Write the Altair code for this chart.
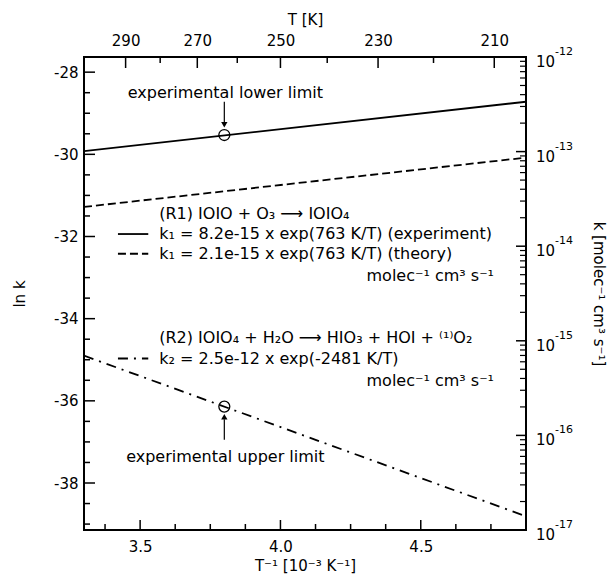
import math
import altair as alt
import pandas as pd
import numpy as np

# ---------------- data ----------------
x_ends = [3.3, 4.875]                      # 1000/T  [10^-3 K^-1]
lnk_r1_experiment = [-29.92, -28.72]
lnk_r1_theory = [-31.28, -30.08]
lnk_r2 = [-34.90, -38.81]

limit_x = [3.80, 3.80]
limit_lnk = [-29.53, -36.14]
limit_labels = ["experimental lower limit", "experimental upper limit"]

x_tick_values = [3.5, 4.0, 4.5]
lnk_tick_values = [-38, -36, -34, -32, -30, -28]
T_major = [290, 270, 250, 230, 210]
T_minor = [280, 260, 240, 220]
k_exponents = [-12, -13, -14, -15, -16, -17]
k_mantissas = [2, 3, 4, 5, 6, 7, 8, 9]

legend_texts = [
    "(R1) IOIO + O₃ ⟶ IOIO₄",
    "k₁ = 8.2e-15 x exp(763 K/T) (experiment)",
    "k₁ = 2.1e-15 x exp(763 K/T) (theory)",
    "(R2) IOIO₄ + H₂O ⟶ HIO₃ + HOI + ⁽¹⁾O₂",
    "k₂ = 2.5e-12 x exp(-2481 K/T)",
]
unit_text = "molec⁻¹ cm³ s⁻¹"

# ---------------- layout ----------------
W, H = 442, 473
FONT = "DejaVu Sans"
FS = 15
AFS = 16
X_DOMAIN = [3.3, 4.875]
Y_DOMAIN = [math.log(1e-17), math.log(1e-12)]


def X(field, axis=None, **kw):
    return alt.X(field, type="quantitative",
                 scale=alt.Scale(domain=X_DOMAIN, nice=False, zero=False),
                 axis=axis, **kw)


def Y(field, axis=None, **kw):
    return alt.Y(field, type="quantitative",
                 scale=alt.Scale(domain=Y_DOMAIN, nice=False, zero=False),
                 axis=axis, **kw)


layers = []

# ---- data lines ----
for vals, dash in [(lnk_r1_experiment, None), (lnk_r1_theory, [8, 4]), (lnk_r2, [10, 6, 2, 6])]:
    kw = dict(color="black", strokeWidth=1.8, clip=True)
    if dash:
        kw["strokeDash"] = dash
    layers.append(
        alt.Chart(pd.DataFrame({"x": x_ends, "lnk": vals}))
        .mark_line(**kw)
        .encode(x=X("x"), y=Y("lnk"))
    )

# ---- limit circles ----
layers.append(
    alt.Chart(pd.DataFrame({"x": limit_x, "lnk": limit_lnk}))
    .mark_point(shape="circle", filled=False, color="black", size=120, strokeWidth=1.3, opacity=1)
    .encode(x=X("x"), y=Y("lnk"))
)

# ---- arrows ----
arrow_df = pd.DataFrame({"x": limit_x, "y1": [-28.72, -36.95], "y2": [-29.22, -36.45]})
layers.append(
    alt.Chart(arrow_df).mark_rule(color="black", strokeWidth=1.2)
    .encode(x=X("x"), y=Y("y1"), y2="y2")
)
layers.append(
    alt.Chart(pd.DataFrame({"x": [limit_x[0]], "y": [-29.28]}))
    .mark_point(shape="triangle-down", filled=True, color="black", size=40, opacity=1)
    .encode(x=X("x"), y=Y("y"))
)
layers.append(
    alt.Chart(pd.DataFrame({"x": [limit_x[1]], "y": [-36.39]}))
    .mark_point(shape="triangle-up", filled=True, color="black", size=40, opacity=1)
    .encode(x=X("x"), y=Y("y"))
)

# ---- limit labels ----
layers.append(
    alt.Chart(pd.DataFrame({"t": limit_labels, "x": [3.8036, 3.8036], "y": [-28.51, -37.36]}))
    .mark_text(font=FONT, fontSize=AFS, color="black", align="center", baseline="middle")
    .encode(x=X("x"), y=Y("y"), text="t")
)

# ---- legend text ----
leg_df = pd.DataFrame({
    "t": legend_texts,
    "x": [3.568] * 5,
    "y": [-31.45, -31.94, -32.42, -34.47, -34.97],
})
layers.append(
    alt.Chart(leg_df)
    .mark_text(font=FONT, fontSize=AFS, color="black", align="left", baseline="middle")
    .encode(x=X("x"), y=Y("y"), text="t")
)
layers.append(
    alt.Chart(pd.DataFrame({"t": [unit_text, unit_text], "x": [4.761, 4.761], "y": [-32.96, -35.51]}))
    .mark_text(font=FONT, fontSize=AFS, color="black", align="right", baseline="middle")
    .encode(x=X("x"), y=Y("y"), text="t")
)

# ---- legend line samples ----
for yv, dash in [(-31.94, None), (-32.42, [8, 4]), (-34.97, [10, 6, 2, 6])]:
    kw = dict(color="black", strokeWidth=1.8)
    if dash:
        kw["strokeDash"] = dash
    layers.append(
        alt.Chart(pd.DataFrame({"x1": [3.421], "x2": [3.529], "y": [yv]}))
        .mark_rule(**kw)
        .encode(x=X("x1"), x2="x2", y=Y("y"))
    )

# ---- bottom axis + ticks ----
layers.append(
    alt.Chart(pd.DataFrame({"x": x_tick_values})).mark_rule(color="black", strokeWidth=1.5)
    .encode(
        x=X("x", axis=alt.Axis(orient="bottom", values=x_tick_values, format=".1f",
                               title="T⁻¹ [10⁻³ K⁻¹]", labelPadding=9, titlePadding=4)),
        y=alt.value(H), y2=alt.value(H - 10),
    )
)
x_minor = [v for v in np.arange(3.375, 4.8, 0.125) if all(abs(v - m) > 1e-6 for m in x_tick_values)]
layers.append(
    alt.Chart(pd.DataFrame({"x": x_minor})).mark_rule(color="black", strokeWidth=1.5)
    .encode(x=X("x"), y=alt.value(H), y2=alt.value(H - 6))
)

# ---- top axis + ticks ----
layers.append(
    alt.Chart(pd.DataFrame({"T": T_major})).transform_calculate(x="1000 / datum.T")
    .mark_rule(color="black", strokeWidth=1.5)
    .encode(
        x=X("x", axis=alt.Axis(orient="top", values=[1000 / t for t in T_major],
                               labelExpr="format(1000 / datum.value, '.0f')",
                               title="T [K]", labelPadding=9, titlePadding=6)),
        y=alt.value(0), y2=alt.value(11),
    )
)
layers.append(
    alt.Chart(pd.DataFrame({"T": T_minor})).transform_calculate(x="1000 / datum.T")
    .mark_rule(color="black", strokeWidth=1.5)
    .encode(x=X("x"), y=alt.value(0), y2=alt.value(6))
)

# ---- left axis + ticks ----
layers.append(
    alt.Chart(pd.DataFrame({"lnk": lnk_tick_values})).mark_rule(color="black", strokeWidth=1.5)
    .encode(
        y=Y("lnk", axis=alt.Axis(orient="left", values=lnk_tick_values,
                                 labelExpr="'' + datum.value",
                                 title="ln k", labelPadding=6, titlePadding=26)),
        x=alt.value(0), x2=alt.value(11),
    )
)
lnk_minor = [v for v in np.arange(-39.0, -27.6, 0.5) if all(abs(v - m) > 1e-6 for m in lnk_tick_values)]
layers.append(
    alt.Chart(pd.DataFrame({"lnk": lnk_minor})).mark_rule(color="black", strokeWidth=1.5)
    .encode(y=Y("lnk"), x=alt.value(0), x2=alt.value(6))
)

# ---- right axis (k, log scale) ----
layers.append(
    alt.Chart(pd.DataFrame({"n": k_exponents}))
    .transform_calculate(lnk="log(pow(10, datum.n))")
    .mark_rule(color="black", strokeWidth=1.5)
    .encode(
        y=Y("lnk", axis=alt.Axis(orient="right", labels=False, title="k [molec⁻¹ cm³ s⁻¹]",
                                 titlePadding=64, titleAngle=90)),
        x=alt.value(W), x2=alt.value(W - 10),
    )
)
minor_rows = [{"m": m, "n": n} for n in k_exponents[1:] for m in k_mantissas]
layers.append(
    alt.Chart(pd.DataFrame(minor_rows))
    .transform_calculate(lnk="log(datum.m * pow(10, datum.n))")
    .mark_rule(color="black", strokeWidth=1.2)
    .encode(y=Y("lnk"), x=alt.value(W), x2=alt.value(W - 6))
)
layers.append(
    alt.Chart(pd.DataFrame({"n": k_exponents}))
    .transform_calculate(lnk="log(pow(10, datum.n))", base="'10'")
    .mark_text(font=FONT, fontSize=FS, color="black", align="left", baseline="alphabetic", dy=10)
    .encode(y=Y("lnk"), x=alt.value(W + 10), text="base:N")
)
layers.append(
    alt.Chart(pd.DataFrame({"n": k_exponents}))
    .transform_calculate(lnk="log(pow(10, datum.n))", sup="'' + datum.n")
    .mark_text(font=FONT, fontSize=11, color="black", align="left", baseline="alphabetic", dy=-2)
    .encode(y=Y("lnk"), x=alt.value(W + 29), text="sup:N")
)

chart = (
    alt.layer(*layers)
    .resolve_scale(x="independent", y="independent")
    .properties(
        width=W, height=H,
        autosize=alt.AutoSizeParams(type="none"),
        padding={"left": 84, "top": 57, "right": 611 - 84 - W, "bottom": 577 - 57 - H},
        background="white",
    )
    .configure_view(stroke="black", strokeWidth=2)
    .configure_axis(
        domain=False, ticks=False, grid=False,
        labelFont=FONT, labelFontSize=FS, labelColor="black",
        titleFont=FONT, titleFontSize=FS, titleFontWeight="normal", titleColor="black",
    )
)

chart.save("out.html", embed_options={"renderer": "svg", "actions": False})
